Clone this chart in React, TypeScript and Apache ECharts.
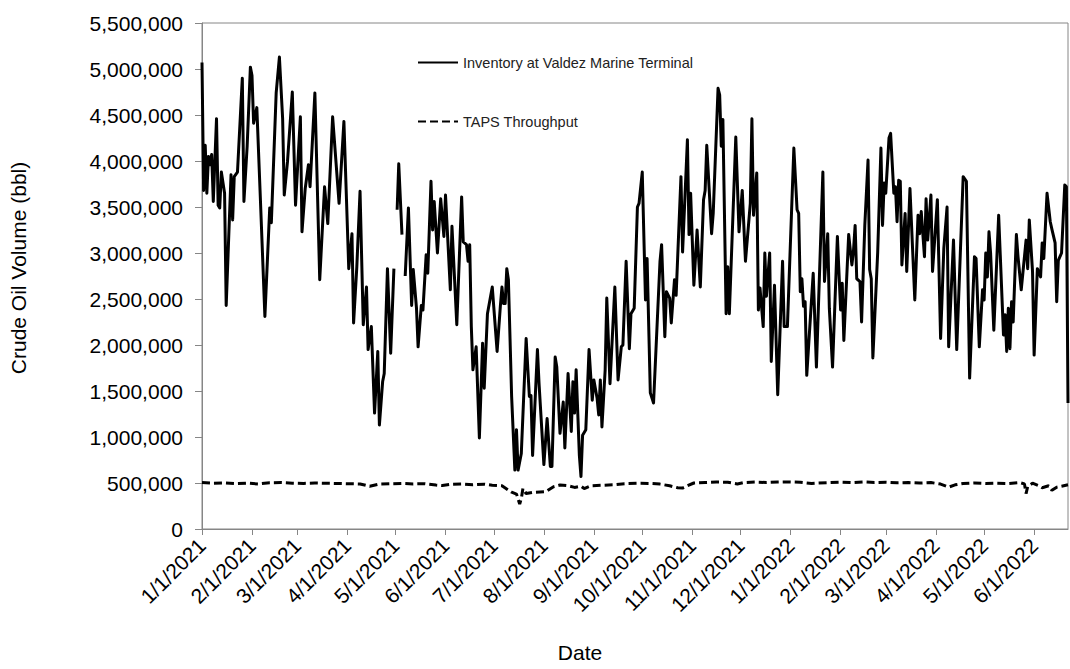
import React, { useEffect, useRef } from "react";
import * as echarts from "echarts";

// Daily inventory at Valdez Marine Terminal (bbl); null = missing day
const inventory: [string, number | null][] = [
  ["2021-01-01", 5070000], ["2021-01-02", 3680000], ["2021-01-03", 4170000], ["2021-01-04", 3650000],
  ["2021-01-05", 4050000], ["2021-01-06", 3960000], ["2021-01-07", 4070000], ["2021-01-08", 3560000],
  ["2021-01-10", 4460000], ["2021-01-11", 3520000], ["2021-01-12", 3490000], ["2021-01-13", 3880000],
  ["2021-01-15", 3650000], ["2021-01-16", 2430000], ["2021-01-19", 3850000], ["2021-01-20", 3360000],
  ["2021-01-21", 3830000], ["2021-01-23", 3880000], ["2021-01-26", 4900000], ["2021-01-27", 3560000],
  ["2021-01-29", 4160000], ["2021-01-31", 5020000], ["2021-02-01", 4930000], ["2021-02-02", 4410000],
  ["2021-02-04", 4580000], ["2021-02-06", 3680000], ["2021-02-09", 2310000], ["2021-02-12", 3490000],
  ["2021-02-13", 3330000], ["2021-02-16", 4740000], ["2021-02-18", 5130000], ["2021-02-20", 4460000],
  ["2021-02-21", 3630000], ["2021-02-23", 3990000], ["2021-02-26", 4750000], ["2021-02-28", 3520000],
  ["2021-03-03", 4480000], ["2021-03-04", 3230000], ["2021-03-06", 3700000], ["2021-03-08", 3960000],
  ["2021-03-09", 3720000], ["2021-03-12", 4740000], ["2021-03-15", 2710000], ["2021-03-18", 3720000],
  ["2021-03-20", 3320000], ["2021-03-23", 4480000], ["2021-03-27", 3540000], ["2021-03-30", 4430000],
  ["2021-04-02", 2830000], ["2021-04-04", 3210000], ["2021-04-05", 2240000], ["2021-04-07", 2850000],
  ["2021-04-09", 3670000], ["2021-04-11", 2220000], ["2021-04-13", 2630000], ["2021-04-14", 1950000],
  ["2021-04-16", 2200000], ["2021-04-18", 1260000], ["2021-04-20", 1930000], ["2021-04-21", 1130000],
  ["2021-04-23", 1600000], ["2021-04-24", 1690000], ["2021-04-26", 2830000], ["2021-04-28", 1910000],
  ["2021-04-30", 2830000], ["2021-05-01", null], ["2021-05-02", 3470000], ["2021-05-03", 3970000],
  ["2021-05-05", 3200000], ["2021-05-06", null], ["2021-05-07", 2750000], ["2021-05-09", 3490000],
  ["2021-05-11", 2430000], ["2021-05-12", 2820000], ["2021-05-14", 2400000], ["2021-05-15", 1980000],
  ["2021-05-17", 2430000], ["2021-05-18", 2380000], ["2021-05-20", 2980000], ["2021-05-21", 2780000],
  ["2021-05-23", 3780000], ["2021-05-24", 3250000], ["2021-05-25", 3560000], ["2021-05-27", 3000000],
  ["2021-05-29", 3590000], ["2021-05-31", 3180000], ["2021-06-01", 3630000], ["2021-06-04", 2600000],
  ["2021-06-05", 3290000], ["2021-06-08", 2220000], ["2021-06-11", 3610000], ["2021-06-12", 3120000],
  ["2021-06-14", 3090000], ["2021-06-15", 2910000], ["2021-06-16", 3090000], ["2021-06-17", 2200000],
  ["2021-06-18", 1730000], ["2021-06-20", 1980000], ["2021-06-22", 990000], ["2021-06-24", 2020000],
  ["2021-06-25", 1530000], ["2021-06-27", 2340000], ["2021-06-30", 2630000], ["2021-07-03", 1930000],
  ["2021-07-05", 2420000], ["2021-07-06", 2630000], ["2021-07-07", 2450000], ["2021-07-08", 2450000],
  ["2021-07-09", 2830000], ["2021-07-10", 2710000], ["2021-07-12", 1440000], ["2021-07-14", 640000],
  ["2021-07-15", 1080000], ["2021-07-16", 640000], ["2021-07-18", 820000], ["2021-07-21", 2070000],
  ["2021-07-23", 1440000], ["2021-07-24", 1450000], ["2021-07-25", 800000], ["2021-07-28", 1950000],
  ["2021-07-29", 1580000], ["2021-08-01", 700000], ["2021-08-03", 1200000], ["2021-08-05", 680000],
  ["2021-08-06", 680000], ["2021-08-08", 1870000], ["2021-08-09", 1760000], ["2021-08-11", 1040000],
  ["2021-08-13", 1380000], ["2021-08-14", 880000], ["2021-08-16", 1690000], ["2021-08-18", 1060000],
  ["2021-08-19", 1600000], ["2021-08-20", 1260000], ["2021-08-21", 1730000], ["2021-08-23", 800000],
  ["2021-08-24", 570000], ["2021-08-25", 1020000], ["2021-08-27", 1080000], ["2021-08-29", 1950000],
  ["2021-08-31", 1400000], ["2021-09-01", 1620000], ["2021-09-03", 1420000], ["2021-09-04", 1240000],
  ["2021-09-05", 1620000], ["2021-09-06", 1110000], ["2021-09-08", 1730000], ["2021-09-09", 2510000],
  ["2021-09-11", 1580000], ["2021-09-14", 2630000], ["2021-09-16", 1620000], ["2021-09-18", 1980000],
  ["2021-09-19", 2000000], ["2021-09-21", 2910000], ["2021-09-23", 1960000], ["2021-09-24", 2340000],
  ["2021-09-26", 2400000], ["2021-09-28", 3500000], ["2021-09-29", 3540000], ["2021-10-01", 3880000],
  ["2021-10-03", 2490000], ["2021-10-04", 2940000], ["2021-10-06", 1480000], ["2021-10-08", 1370000],
  ["2021-10-12", 2910000], ["2021-10-13", 3090000], ["2021-10-15", 2090000], ["2021-10-16", 2580000],
  ["2021-10-18", 2510000], ["2021-10-19", 2240000], ["2021-10-21", 2710000], ["2021-10-22", 2540000],
  ["2021-10-25", 3830000], ["2021-10-26", 3010000], ["2021-10-29", 4230000], ["2021-10-30", 3200000],
  ["2021-10-31", 3650000], ["2021-11-02", 2650000], ["2021-11-04", 3250000], ["2021-11-06", 2630000],
  ["2021-11-08", 3580000], ["2021-11-09", 3680000], ["2021-11-10", 4170000], ["2021-11-13", 3210000],
  ["2021-11-14", 3430000], ["2021-11-17", 4790000], ["2021-11-18", 4720000], ["2021-11-19", 4160000],
  ["2021-11-20", 4450000], ["2021-11-22", 2340000], ["2021-11-23", 2850000], ["2021-11-24", 2340000],
  ["2021-11-28", 4260000], ["2021-11-30", 3230000], ["2021-12-02", 3680000], ["2021-12-04", 2910000],
  ["2021-12-07", 3540000], ["2021-12-08", 4460000], ["2021-12-09", 3410000], ["2021-12-11", 3870000],
  ["2021-12-12", 2380000], ["2021-12-13", 2620000], ["2021-12-15", 2200000], ["2021-12-16", 3000000],
  ["2021-12-17", 2530000], ["2021-12-19", 3000000], ["2021-12-20", 1820000], ["2021-12-22", 2650000],
  ["2021-12-24", 1460000], ["2021-12-27", 2910000], ["2021-12-28", 2200000], ["2021-12-30", 2200000],
  ["2022-01-03", 4140000], ["2022-01-05", 3470000], ["2022-01-06", 3430000], ["2022-01-07", 2580000],
  ["2022-01-08", 2720000], ["2022-01-09", 2420000], ["2022-01-10", 2470000], ["2022-01-11", 1670000],
  ["2022-01-15", 2780000], ["2022-01-17", 1760000], ["2022-01-21", 3880000], ["2022-01-22", 2690000],
  ["2022-01-24", 3210000], ["2022-01-25", 2400000], ["2022-01-27", 1760000], ["2022-01-30", 3180000],
  ["2022-02-01", 2380000], ["2022-02-02", 2670000], ["2022-02-03", 2050000], ["2022-02-06", 3200000],
  ["2022-02-08", 2870000], ["2022-02-09", 3030000], ["2022-02-10", 3300000], ["2022-02-11", 2720000],
  ["2022-02-13", 2690000], ["2022-02-14", 2250000], ["2022-02-16", 3300000], ["2022-02-18", 4010000],
  ["2022-02-19", 2820000], ["2022-02-20", 2720000], ["2022-02-21", 1860000], ["2022-02-24", 3010000],
  ["2022-02-26", 4140000], ["2022-02-27", 3300000], ["2022-02-28", 3760000], ["2022-03-01", 3650000],
  ["2022-03-03", 4250000], ["2022-03-04", 4300000], ["2022-03-06", 3650000], ["2022-03-07", 3720000],
  ["2022-03-08", 3340000], ["2022-03-09", 3790000], ["2022-03-10", 3780000], ["2022-03-11", 2870000],
  ["2022-03-13", 3430000], ["2022-03-14", 2800000], ["2022-03-16", 3700000], ["2022-03-19", 2490000],
  ["2022-03-21", 3410000], ["2022-03-22", 3210000], ["2022-03-23", 3450000], ["2022-03-25", 2960000],
  ["2022-03-26", 3590000], ["2022-03-27", 3140000], ["2022-03-29", 3630000], ["2022-03-30", 2800000],
  ["2022-04-02", 3580000], ["2022-04-04", 2070000], ["2022-04-06", 3050000], ["2022-04-08", 3500000],
  ["2022-04-09", 1980000], ["2022-04-12", 3140000], ["2022-04-14", 1950000], ["2022-04-18", 3830000],
  ["2022-04-20", 3780000], ["2022-04-22", 1640000], ["2022-04-25", 2960000], ["2022-04-26", 2940000],
  ["2022-04-28", 1980000], ["2022-04-30", 2600000], ["2022-05-01", 2490000], ["2022-05-02", 3000000],
  ["2022-05-03", 2740000], ["2022-05-04", 3230000], ["2022-05-05", 3000000], ["2022-05-07", 2160000],
  ["2022-05-10", 3410000], ["2022-05-13", 2110000], ["2022-05-14", 2330000], ["2022-05-15", 1930000],
  ["2022-05-16", 2400000], ["2022-05-17", 1960000], ["2022-05-18", 2470000], ["2022-05-19", 2250000],
  ["2022-05-21", 3200000], ["2022-05-22", 2960000], ["2022-05-24", 2600000], ["2022-05-25", 2780000],
  ["2022-05-27", 3140000], ["2022-05-28", 2830000], ["2022-05-29", 3360000], ["2022-05-31", 2800000],
  ["2022-06-01", 1890000], ["2022-06-03", 2830000], ["2022-06-05", 2740000], ["2022-06-06", 3110000],
  ["2022-06-07", 2940000], ["2022-06-09", 3650000], ["2022-06-11", 3340000], ["2022-06-12", 3260000],
  ["2022-06-14", 3110000], ["2022-06-15", 2470000], ["2022-06-16", 2920000], ["2022-06-18", 3000000],
  ["2022-06-20", 3740000], ["2022-06-21", 3720000], ["2022-06-22", 1370000],
];

// TAPS throughput (bbl/day)
const taps: [string, number][] = [
  ["2021-01-01", 505000], ["2021-01-08", 497000], ["2021-01-15", 500000], ["2021-01-22", 493000],
  ["2021-01-29", 498000], ["2021-02-05", 490000], ["2021-02-12", 503000], ["2021-02-19", 505000],
  ["2021-02-26", 498000], ["2021-03-05", 495000], ["2021-03-12", 500000], ["2021-03-19", 497000],
  ["2021-03-26", 495000], ["2021-04-02", 492000], ["2021-04-09", 490000], ["2021-04-15", 465000],
  ["2021-04-21", 488000], ["2021-04-28", 492000], ["2021-05-05", 495000], ["2021-05-12", 490000],
  ["2021-05-19", 493000], ["2021-05-26", 478000], ["2021-05-30", 472000], ["2021-06-04", 485000],
  ["2021-06-11", 488000], ["2021-06-18", 480000], ["2021-06-25", 487000], ["2021-06-30", 475000],
  ["2021-07-06", 470000], ["2021-07-12", 400000], ["2021-07-15", 380000], ["2021-07-17", 272000],
  ["2021-07-18", 330000], ["2021-07-19", 440000], ["2021-07-21", 385000], ["2021-07-26", 400000],
  ["2021-08-02", 405000], ["2021-08-07", 460000], ["2021-08-11", 478000], ["2021-08-16", 470000],
  ["2021-08-20", 452000], ["2021-08-24", 465000], ["2021-08-26", 440000], ["2021-08-30", 470000],
  ["2021-09-06", 475000], ["2021-09-13", 480000], ["2021-09-20", 493000], ["2021-09-28", 497000],
  ["2021-10-06", 495000], ["2021-10-12", 488000], ["2021-10-18", 470000], ["2021-10-23", 448000],
  ["2021-10-26", 445000], ["2021-10-29", 470000], ["2021-11-02", 500000], ["2021-11-09", 505000],
  ["2021-11-16", 510000], ["2021-11-23", 508000], ["2021-11-29", 490000], ["2021-12-03", 505000],
  ["2021-12-10", 510000], ["2021-12-17", 505000], ["2021-12-24", 510000], ["2021-12-31", 512000],
  ["2022-01-07", 508000], ["2022-01-14", 495000], ["2022-01-18", 500000], ["2022-01-25", 505000],
  ["2022-02-01", 510000], ["2022-02-08", 505000], ["2022-02-15", 512000], ["2022-02-22", 505000],
  ["2022-03-01", 508000], ["2022-03-08", 502000], ["2022-03-15", 505000], ["2022-03-22", 500000],
  ["2022-03-29", 505000], ["2022-04-04", 488000], ["2022-04-09", 455000], ["2022-04-13", 480000],
  ["2022-04-18", 495000], ["2022-04-25", 500000], ["2022-05-02", 495000], ["2022-05-09", 498000],
  ["2022-05-16", 495000], ["2022-05-23", 505000], ["2022-05-26", 490000], ["2022-05-27", 385000],
  ["2022-05-28", 460000], ["2022-05-31", 498000], ["2022-06-04", 470000], ["2022-06-06", 448000],
  ["2022-06-10", 470000], ["2022-06-12", 420000], ["2022-06-15", 455000], ["2022-06-18", 465000],
  ["2022-06-22", 480000],
];

// x-axis tick positions (first of each month)
const monthTicks: string[] = [
  "2021-01-01", "2021-02-01", "2021-03-01", "2021-04-01", "2021-05-01", "2021-06-01",
  "2021-07-01", "2021-08-01", "2021-09-01", "2021-10-01", "2021-11-01", "2021-12-01",
  "2022-01-01", "2022-02-01", "2022-03-01", "2022-04-01", "2022-05-01", "2022-06-01",
];

const xStart = "2021-01-01";
const xEnd = "2022-06-22";

const seriesNames = ["Inventory at Valdez Marine Terminal", "TAPS Throughput"];
const axisTitles = { y: "Crude Oil Volume (bbl)", x: "Date" };

const FONT = "'Liberation Sans', Arial, Helvetica, sans-serif";

const ts = (s: string) => {
  const [y, m, d] = s.split("-").map(Number);
  return new Date(y, m - 1, d).getTime();
};

export default function App() {
  const ref = useRef<HTMLDivElement>(null);

  useEffect(() => {
    if (!ref.current) return;
    const chart = echarts.init(ref.current, undefined, { renderer: "svg" });
    const tickValues = monthTicks.map(ts);
    const axisColor = "#868686";

    chart.setOption({
      animation: false,
      backgroundColor: "#ffffff",
      textStyle: { fontFamily: FONT },
      grid: {
        left: 202,
        right: 2,
        top: 23,
        bottom: 140,
        show: true,
        borderColor: axisColor,
        borderWidth: 1,
        containLabel: false,
        outerBoundsMode: "none",
      },
      legend: {
        show: true,
        orient: "vertical",
        left: 412,
        top: 50,
        itemWidth: 40,
        itemHeight: 14,
        itemGap: 44,
        data: seriesNames,
        itemStyle: { opacity: 0, borderWidth: 0 },
        textStyle: { fontSize: 14.5, color: "#222", fontFamily: FONT },
      },
      xAxis: {
        type: "value",
        min: ts(xStart),
        max: ts(xEnd),
        axisLine: { show: true, onZero: false, lineStyle: { color: axisColor, width: 1 } },
        axisTick: {
          show: true,
          length: 6,
          customValues: tickValues,
          lineStyle: { color: axisColor, width: 1 },
        },
        axisLabel: {
          customValues: tickValues,
          rotate: 45,
          margin: 13,
          fontSize: 21,
          color: "#000",
          fontFamily: FONT,
          showMinLabel: true,
          showMaxLabel: true,
          formatter: (v: number) => {
            const d = new Date(v);
            return `${d.getMonth() + 1}/${d.getDate()}/${d.getFullYear()}`;
          },
        },
        splitLine: { show: false },
      },
      yAxis: {
        type: "value",
        min: 0,
        max: 5500000,
        interval: 500000,
        axisLine: { show: true, lineStyle: { color: axisColor, width: 1 } },
        axisTick: { show: true, length: 7, lineStyle: { color: axisColor, width: 1 } },
        axisLabel: {
          margin: 19,
          fontSize: 21,
          color: "#000",
          fontFamily: FONT,
          formatter: (v: number) => v.toLocaleString("en-US"),
        },
        splitLine: { show: false },
      },
      series: [
        {
          name: seriesNames[0],
          type: "line",
          data: inventory.map(([d, v]) => [ts(d), v]),
          symbol: "none",
          showSymbol: false,
          connectNulls: false,
          lineStyle: { color: "#000", width: 3, join: "round" },
          itemStyle: { color: "#000" },
          z: 3,
        },
        {
          name: seriesNames[1],
          type: "line",
          data: taps.map(([d, v]) => [ts(d), v]),
          symbol: "none",
          showSymbol: false,
          lineStyle: { color: "#000", width: 3, type: [8, 4] },
          itemStyle: { color: "#000" },
          z: 2,
        },
      ],
      graphic: [
        {
          type: "text",
          x: 18,
          y: 268,
          rotation: Math.PI / 2,
          style: {
            text: axisTitles.y,
            fontSize: 21,
            fontFamily: FONT,
            fill: "#000",
            textAlign: "center",
            textVerticalAlign: "middle",
          },
        },
        {
          type: "text",
          x: 580,
          y: 652,
          style: {
            text: axisTitles.x,
            fontSize: 21,
            fontFamily: FONT,
            fill: "#000",
            textAlign: "center",
            textVerticalAlign: "middle",
          },
        },
      ],
    });

    return () => chart.dispose();
  }, []);

  return (
    <div
      ref={ref}
      style={{ position: "fixed", left: 0, top: 0, width: 1070, height: 669, background: "#fff" }}
    />
  );
}
